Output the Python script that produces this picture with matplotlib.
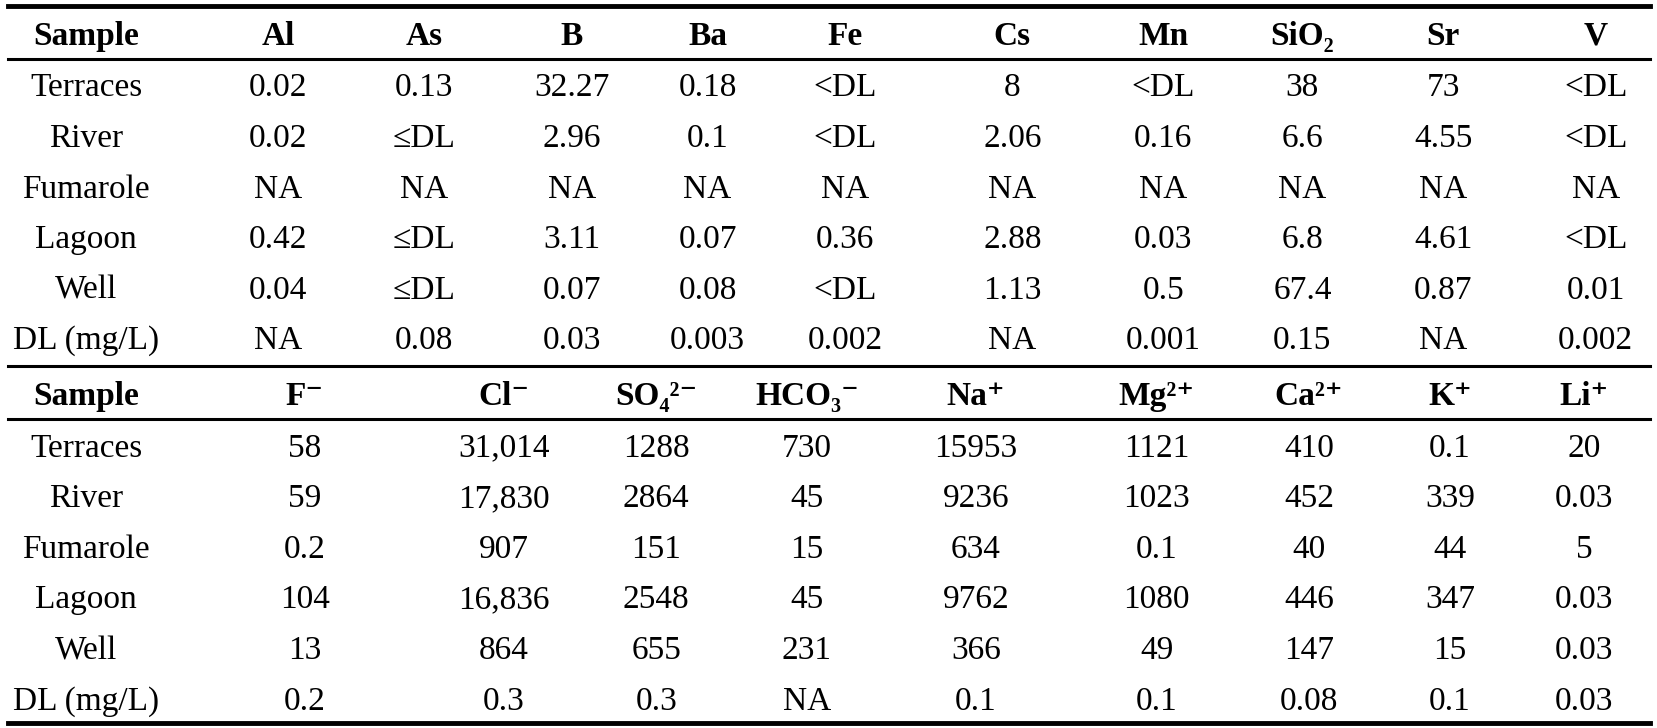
import matplotlib
matplotlib.use("Agg")
import matplotlib.pyplot as plt

plt.rcParams['font.family'] = ['Liberation Serif', 'DejaVu Serif']

samples = ["Terraces", "River", "Fumarole", "Lagoon", "Well", "DL (mg/L)"]

header1 = ["Sample", "Al", "As", "B", "Ba", "Fe", "Cs", "Mn", "SiO₂", "Sr", "V"]
rows1 = [
    ["0.02", "0.13", "32.27", "0.18", "<DL", "8", "<DL", "38", "73", "<DL"],
    ["0.02", "≤DL", "2.96", "0.1", "<DL", "2.06", "0.16", "6.6", "4.55", "<DL"],
    ["NA", "NA", "NA", "NA", "NA", "NA", "NA", "NA", "NA", "NA"],
    ["0.42", "≤DL", "3.11", "0.07", "0.36", "2.88", "0.03", "6.8", "4.61", "<DL"],
    ["0.04", "≤DL", "0.07", "0.08", "<DL", "1.13", "0.5", "67.4", "0.87", "0.01"],
    ["NA", "0.08", "0.03", "0.003", "0.002", "NA", "0.001", "0.15", "NA", "0.002"],
]

header2 = ["Sample", "F⁻", "Cl⁻", "SO₄²⁻", "HCO₃⁻", "Na⁺", "Mg²⁺", "Ca²⁺", "K⁺", "Li⁺"]
rows2 = [
    ["58", "31,014", "1288", "730", "15953", "1121", "410", "0.1", "20"],
    ["59", "17,830", "2864", "45", "9236", "1023", "452", "339", "0.03"],
    ["0.2", "907", "151", "15", "634", "0.1", "40", "44", "5"],
    ["104", "16,836", "2548", "45", "9762", "1080", "446", "347", "0.03"],
    ["13", "864", "655", "231", "366", "49", "147", "15", "0.03"],
    ["0.2", "0.3", "0.3", "NA", "0.1", "0.1", "0.08", "0.1", "0.03"],
]

xs1 = [0.052, 0.168, 0.256, 0.345, 0.427, 0.51, 0.611, 0.702, 0.786, 0.871, 0.963]
xs2 = [0.052, 0.184, 0.304, 0.396, 0.487, 0.589, 0.698, 0.79, 0.875, 0.956]

fig = plt.figure(figsize=(16.57, 7.28), dpi=100)
ax = fig.add_axes([0, 0, 1, 1])
ax.set_xlim(0, 1)
ax.set_ylim(1, 0)
ax.axis("off")

fs = 24
rh = 0.0695

def block(top, header, rows, xs):
    yh = top + 0.042
    for x, h in zip(xs, header):
        ax.text(x, yh, h, ha="center", va="center", fontsize=fs, fontweight="bold")
    line_y = top + 0.073
    ax.plot([0.005, 0.996], [line_y, line_y], color="black", lw=2.2)
    for i, s in enumerate(samples):
        y = line_y + 0.04 + i * rh
        ax.text(xs[0], y, s, ha="center", va="center", fontsize=fs)
        for x, v in zip(xs[1:], rows[i]):
            ax.text(x, y, v, ha="center", va="center", fontsize=fs)

ax.plot([0.005, 0.996], [0.008, 0.008], color="black", lw=3.5)
block(0.008, header1, rows1, xs1)
ax.plot([0.005, 0.996], [0.503, 0.503], color="black", lw=2.2)
block(0.503, header2, rows2, xs2)
ax.plot([0.005, 0.996], [0.993, 0.993], color="black", lw=3.5)

fig.savefig("out.png", dpi=100)
